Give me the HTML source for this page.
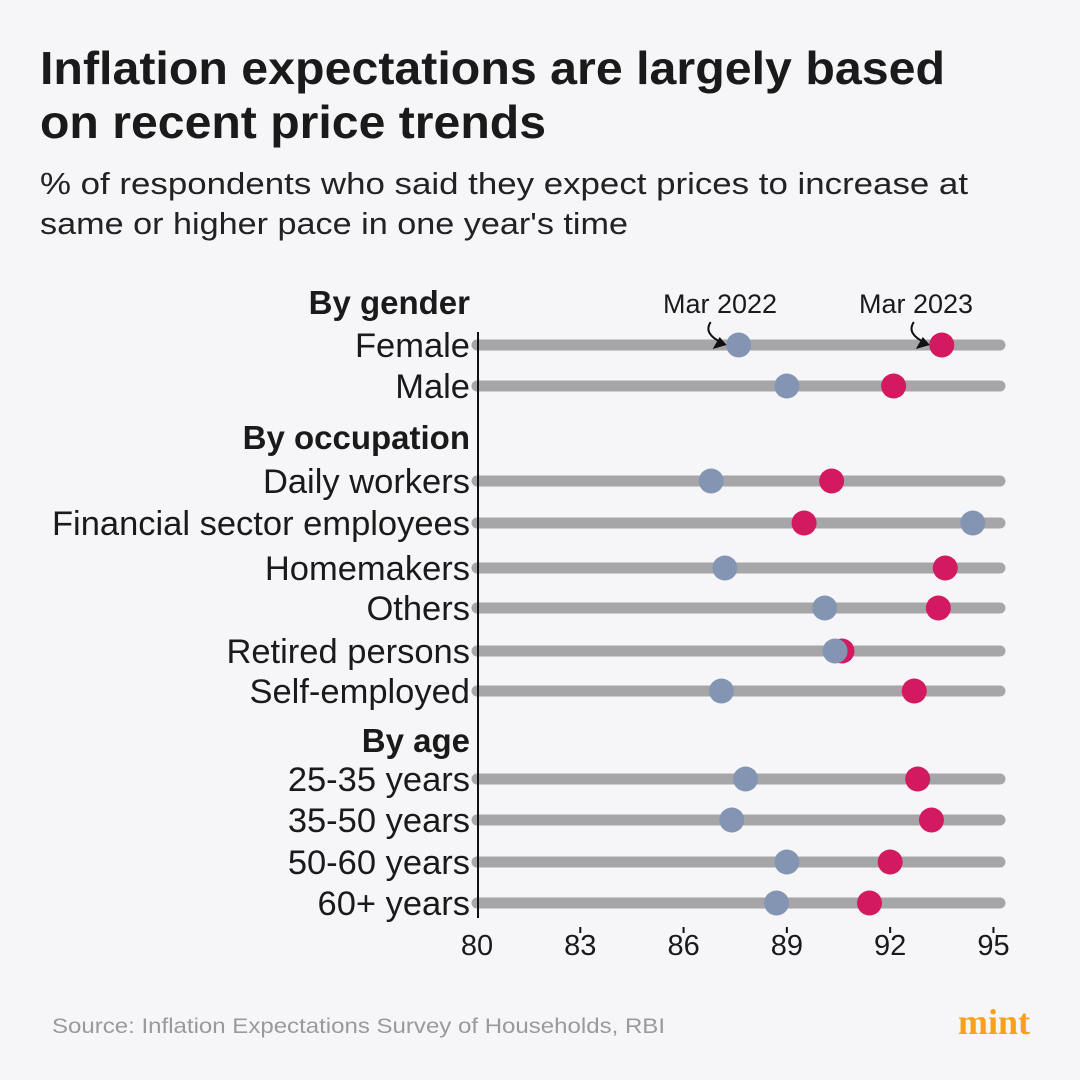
<!DOCTYPE html>
<html><head><meta charset="utf-8"><style>
body{margin:0;background:#f6f6f8;}
svg{display:block;font-family:"Liberation Sans",sans-serif;}
</style></head><body>
<svg width="1080" height="1080" viewBox="0 0 1080 1080">
<rect width="1080" height="1080" fill="#f6f6f8"/>
<text x="40" y="84" font-size="46" font-weight="bold" fill="#1a1a1a" textLength="905" lengthAdjust="spacingAndGlyphs">Inflation expectations are largely based</text>
<text x="40" y="138" font-size="46" font-weight="bold" fill="#1a1a1a" textLength="506" lengthAdjust="spacingAndGlyphs">on recent price trends</text>
<text x="40" y="194" font-size="31" fill="#222" textLength="928" lengthAdjust="spacingAndGlyphs">% of respondents who said they expect prices to increase at</text>
<text x="40" y="234" font-size="31" fill="#222" textLength="588" lengthAdjust="spacingAndGlyphs">same or higher pace in one year's time</text>
<g id="plot"></g>
<text x="52" y="1033" font-size="21" fill="#9a9a9a" textLength="613" lengthAdjust="spacingAndGlyphs">Source: Inflation Expectations Survey of Households, RBI</text>
<text x="1030" y="1034" font-size="36" font-weight="bold" font-family="Liberation Serif,serif" fill="#f5a11c" text-anchor="end">mint</text>
</svg>
<script>
const categories=["Female","Male","Daily workers","Financial sector employees","Homemakers","Others","Retired persons","Self-employed","25-35 years","35-50 years","50-60 years","60+ years"];
const mar2022=[87.6,89.0,86.8,94.4,87.2,90.1,90.4,87.1,87.8,87.4,89.0,88.7];
const mar2023=[93.5,92.1,90.3,89.5,93.6,93.4,90.6,92.7,92.8,93.2,92.0,91.4];
const rowY=[345,386,481,523,568,608,651,691,779,820,862,903];
const groups=["By gender","By occupation","By age"];
const groupY=[302,437,740];
const ticks=[80,83,86,89,92,95];
const x=v=>477+(v-80)*34.43;
const NS="http://www.w3.org/2000/svg";
const g=document.getElementById('plot');
function mk(t,a,txt){const e=document.createElementNS(NS,t);for(const k in a)e.setAttribute(k,a[k]);if(txt!==undefined)e.textContent=txt;g.appendChild(e);return e;}
groups.forEach((s,i)=>{const e=mk('text',{x:470,y:groupY[i]+12,'font-size':33,'font-weight':'bold','text-anchor':'end',fill:'#1a1a1a'},s);

});
categories.forEach((c,i)=>{const y=rowY[i];
const l=mk('text',{x:470,y:y+12,'font-size':34.5,'text-anchor':'end',fill:'#1a1a1a'},c);


const b=mk('line',{x1:x(80),x2:1000,y1:y,y2:y,stroke:'#a6a6a8','stroke-width':11,'stroke-linecap':'round'});


});
const ax=mk('line',{x1:478,x2:478,y1:332,y2:918,stroke:'#111','stroke-width':2});


categories.forEach((c,i)=>{const y=rowY[i];
const p=mk('circle',{cx:x(mar2023[i]),cy:y,r:12.5,fill:'#d3195f'});


const d=mk('circle',{cx:x(mar2022[i]),cy:y,r:12.5,fill:'#8495b3'});


});
ticks.forEach(t=>{
if(t>80){const tk=mk('line',{x1:x(t),x2:x(t),y1:927,y2:933,stroke:'#111','stroke-width':2});

}
const tl=mk('text',{x:x(t),y:955,'font-size':29,'text-anchor':'middle',fill:'#1a1a1a'},t);

});
[[mar2022[0],"Mar 2022",720],[mar2023[0],"Mar 2023",916]].forEach(a=>{
const t=mk('text',{x:a[2],y:313,'font-size':27,'text-anchor':'middle',fill:'#1a1a1a'},a[1]);


const cx=x(a[0])-14;
const p=mk('path',{d:`M${cx-14} 322 Q${cx-22} 334 ${cx-2} 343`,fill:'none',stroke:'#111','stroke-width':2});


const h=mk('path',{d:`M${cx+2} 345 L${cx-12} 349 L${cx-5} 337 Z`,fill:'#111'});


});
</script>
</body></html>
